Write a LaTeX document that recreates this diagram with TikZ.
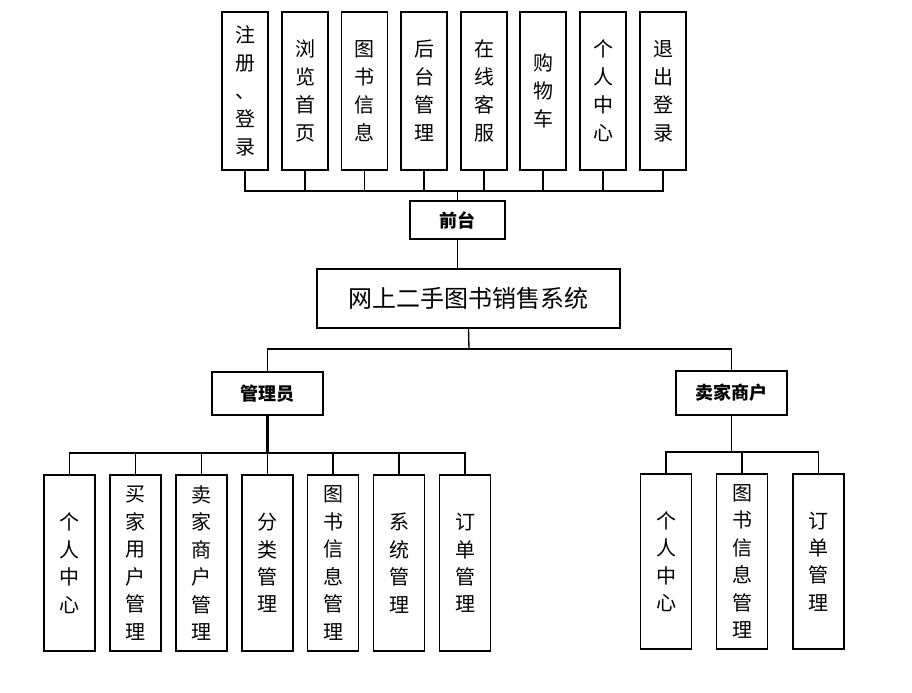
\documentclass[tikz,border=0pt]{standalone}
\usepackage{fontspec}
\newfontfamily\cjk{Noto Sans CJK SC}
\begin{document}
\begin{tikzpicture}[x=0.75pt,y=-0.75pt,
  box/.style={draw=black,line width=1pt,inner sep=0pt,align=center,fill=white},
  topbox/.style={box,minimum width=34.5pt,minimum height=118.5pt,font=\cjk\fontsize{15}{21}\selectfont},
  lowbox/.style={box,minimum width=38.25pt,minimum height=132pt,font=\cjk\fontsize{15}{20.6}\selectfont},
  midbox/.style={box,font=\cjk\bfseries\fontsize{13.5}{16}\selectfont},
  conn/.style={draw=black,line width=1pt}]
\useasboundingbox (0,0) rectangle (912,692);
% top row
\node[topbox] (t1) at (245,91) {注\\册\\、\\登\\录};
\node[topbox] (t2) at (305,91) {浏\\览\\首\\页};
\node[topbox] (t3) at (364.5,91) {图\\书\\信\\息};
\node[topbox] (t4) at (424,91) {后\\台\\管\\理};
\node[topbox] (t5) at (484,91) {在\\线\\客\\服};
\node[topbox] (t6) at (543,91) {购\\物\\车};
\node[topbox] (t7) at (603,91) {个\\人\\中\\心};
\node[topbox] (t8) at (663,91) {退\\出\\登\\录};
\node[midbox,minimum width=71.25pt,minimum height=28.5pt] (qt) at (457.5,220) {前台};
\node[box,minimum width=227.25pt,minimum height=44.25pt,font=\cjk\fontsize{18}{22}\selectfont] (main) at (468.5,298.5) {网上二手图书销售系统};
\node[midbox,minimum width=83.25pt,minimum height=32.25pt] (gly) at (267.5,393.5) {管理员};
\node[midbox,minimum width=83.25pt,minimum height=33pt] (mj) at (731.5,393) {卖家商户};
% bottom left
\node[lowbox] (l1) at (69.5,563) {个\\人\\中\\心};
\node[lowbox] (l2) at (135.5,563) {买\\家\\用\\户\\管\\理};
\node[lowbox] (l3) at (201.5,563) {卖\\家\\商\\户\\管\\理};
\node[lowbox] (l4) at (267.5,563) {分\\类\\管\\理};
\node[lowbox] (l5) at (333,563) {图\\书\\信\\息\\管\\理};
\node[lowbox] (l6) at (399,563) {系\\统\\管\\理};
\node[lowbox] (l7) at (465,563) {订\\单\\管\\理};
% bottom right
\node[lowbox,minimum height=131.25pt] (r1) at (666,561.5) {个\\人\\中\\心};
\node[lowbox,minimum height=131.25pt] (r2) at (742,561.5) {图\\书\\信\\息\\管\\理};
\node[lowbox,minimum height=131.25pt] (r3) at (818.5,561.5) {订\\单\\管\\理};
% connectors top
\coordinate (b1) at (457.5,191);
\foreach \n in {t1,t2,t3,t4,t5,t6,t7,t8} {\draw[conn] (\n.south) |- (b1);}
\draw[conn] (b1) -- (qt.north);
\draw[conn] (qt.south) -- (qt.south |- main.north);
\coordinate (b2) at (469,349);
\draw[conn] (main.south) -- (b2);
\draw[conn] (b2) -| (gly.north);
\draw[conn] (b2) -| (mj.north);
\coordinate (b3) at (267.5,453);
\draw[conn,line width=1.6pt] (gly.south) -- (b3);
\foreach \n in {l1,l2,l3,l4,l5,l6,l7} {\draw[conn] (b3) -| (\n.north);}
\coordinate (b4) at (731.5,452);
\draw[conn] (mj.south) -- (b4);
\foreach \n in {r1,r2,r3} {\draw[conn] (b4) -| (\n.north);}
\end{tikzpicture}
\end{document}
